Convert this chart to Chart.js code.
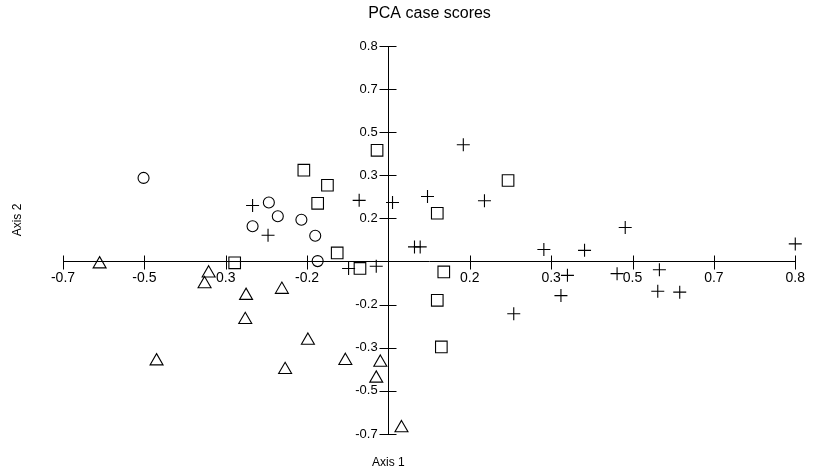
<!DOCTYPE html>
<html><head><meta charset="utf-8">
<script src="https://cdn.jsdelivr.net/npm/chart.js@4"></script>
<style>html,body{margin:0;padding:0;background:#fff}#wrap{width:813px;height:474px;position:relative}</style>
</head><body><div id="wrap"><canvas id="c"></canvas></div>
<script>
// Axis ticks are evenly spaced; values are in tick-step units (-4 .. 5)
const xTickLabels = ['-0.7','-0.5','0.3','-0.2','','0.2','0.3','0.5','0.7','0.8'];
const yTickLabels = ['-0.7','-0.5','-0.3','-0.2','','0.2','0.3','0.5','0.7','0.8'];
const chartTitle = 'PCA case scores';
const xAxisTitle = 'Axis 1';
const yAxisTitle = 'Axis 2';

// Group: circles
const circleX = [-3.01, -1.47, -1.36, -1.67, -1.07, -0.90, -0.87];
const circleY = [ 1.94,  1.37,  1.05,  0.82,  0.97,  0.60,  0.01];
// Group: squares
const squareX = [-0.14, -1.04, -0.75, -0.87, 1.47, 0.60, -0.63, -1.89, -0.35, 0.68, 0.60, 0.65];
const squareY = [ 2.58,  2.12,  1.77,  1.35, 1.88, 1.12,  0.20, -0.03, -0.16, -0.24, -0.90, -1.98];
// Group: triangles
const triangleX = [-3.55, -2.21, -2.26, -1.75, -1.31, -1.76, -0.99, -2.85, -0.53, -1.27, -0.10, -0.15, 0.16];
const triangleY = [-0.06, -0.27, -0.52, -0.79, -0.65, -1.35, -1.83, -2.31, -2.30, -2.51, -2.34, -2.71, -3.86];
// Group: crosses
const crossX = [-1.67, -1.48, -0.36, 0.05, 0.92, 0.48, 1.18, 0.32, 0.39, -0.49, -0.15, 1.91, 2.41, 2.91, 5.00, 2.20, 2.81, 3.33, 2.12, 3.31, 3.58, 1.54];
const crossY = [ 1.30,  0.61,  1.42, 1.37, 2.71, 1.51, 1.41, 0.34, 0.34, -0.16, -0.11, 0.28, 0.26, 0.79, 0.41, -0.32, -0.28, -0.19, -0.79, -0.69, -0.71, -1.21];

const toPts = (xs, ys) => xs.map((v, i) => ({x: v, y: ys[i]}));
const FONT = '"Liberation Sans", Arial, Helvetica, sans-serif';

function ds(label, xs, ys, style, r) {
  return {
    label, data: toPts(xs, ys), pointStyle: style, pointRadius: r, pointHoverRadius: r,
    borderColor: '#000', backgroundColor: 'rgba(0,0,0,0)', pointBorderWidth: 1.1,
    showLine: false, clip: false
  };
}

const crossTicks = {
  id: 'crossTicks',
  afterDatasetsDraw(chart) {
    const {ctx, scales: {x, y}} = chart;
    const x0 = Math.round(x.getPixelForValue(0)) + 0.5;
    const y0 = Math.round(y.getPixelForValue(0)) + 0.5;
    ctx.save();
    ctx.strokeStyle = '#000';
    ctx.lineWidth = 1;
    ctx.beginPath();
    x.ticks.forEach(t => {
      if (t.value === 0) return;
      const px = Math.round(x.getPixelForValue(t.value)) + 0.5;
      ctx.moveTo(px, y0 - 7); ctx.lineTo(px, y0 + 7);
    });
    y.ticks.forEach(t => {
      if (t.value === 0) return;
      const py = Math.round(y.getPixelForValue(t.value)) + 0.5;
      ctx.moveTo(x0 - 9, py); ctx.lineTo(x0 + 8, py);
    });
    ctx.stroke();
    ctx.fillStyle = '#000';
    ctx.font = '12px ' + FONT;
    ctx.textAlign = 'center';
    ctx.textBaseline = 'middle';
    ctx.fillText(xAxisTitle, x.getPixelForValue(0), chart.chartArea.bottom + 29);
    ctx.translate(18, chart.chartArea.top + 174);
    ctx.rotate(-Math.PI / 2);
    ctx.fillText(yAxisTitle, 0, 0);
    ctx.restore();
  }
};

new Chart(document.getElementById('c'), {
  type: 'scatter',
  data: {
    datasets: [
      ds('circles', circleX, circleY, 'circle', 5.5),
      ds('squares', squareX, squareY, 'rect', 8.2),
      ds('triangles', triangleX, triangleY, 'triangle', 7.5),
      ds('crosses', crossX, crossY, 'cross', 6.5)
    ]
  },
  options: {
    responsive: true,
    maintainAspectRatio: false,
    animation: false,
    devicePixelRatio: 1,
    layout: {padding: {left: 63, right: 17, top: 0, bottom: 40}},
    plugins: {
      legend: {display: false},
      tooltip: {enabled: false},
      title: {
        display: true, text: chartTitle, color: '#000',
        font: {family: FONT, size: 16, weight: 'normal'},
        padding: {top: 4, bottom: 22.8}
      }
    },
    scales: {
      x: {
        type: 'linear', min: -4, max: 5, position: {y: 0},
        grid: {display: false, drawTicks: false},
        border: {display: true, color: '#000', width: 1},
        ticks: {
          stepSize: 1, color: '#000', padding: 8, maxRotation: 0, autoSkip: false,
          font: {family: FONT, size: 14},
          callback: v => xTickLabels[Math.round(v) + 4]
        }
      },
      y: {
        type: 'linear', min: -4, max: 5, position: {x: 0},
        grid: {display: false, drawTicks: false},
        border: {display: true, color: '#000', width: 1},
        ticks: {
          stepSize: 1, color: '#000', autoSkip: false,
          font: {family: FONT, size: 13},
          // center-positioned y axis ignores padding; trailing spaces keep labels clear of the tick marks
          callback: v => { const s = yTickLabels[Math.round(v) + 4]; return s ? s + '   ' : ''; }
        }
      }
    }
  },
  plugins: [crossTicks]
});
</script>
</body></html>
